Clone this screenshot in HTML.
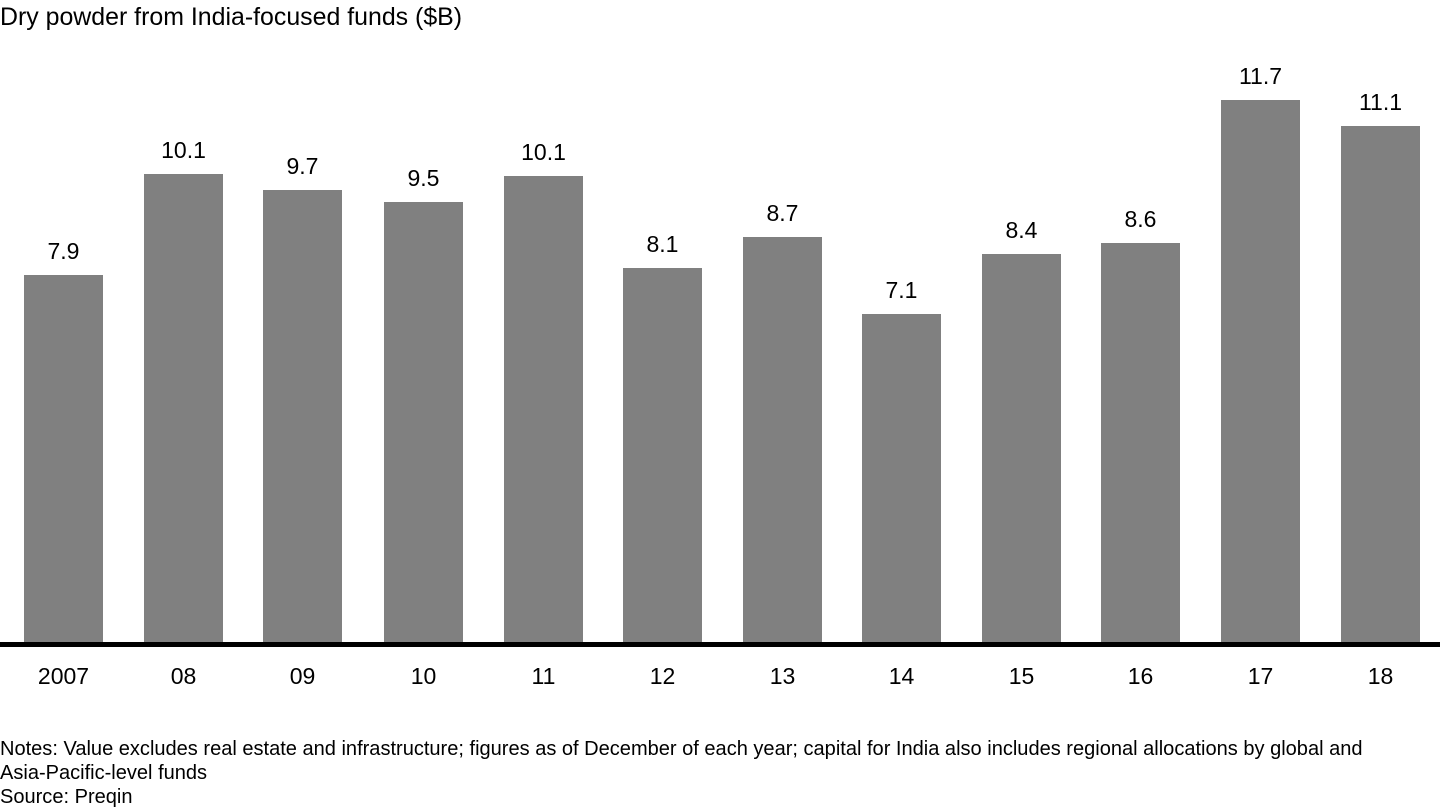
<!DOCTYPE html>
<html><head><style>
body{margin:0;width:1440px;height:810px;background:#fff;font-family:"Liberation Sans",Arial,sans-serif;color:#000;position:relative;overflow:hidden}
.t{position:absolute;white-space:nowrap}
.bar{position:absolute;background:#808080;width:79px}
.v,.y{position:absolute;width:120px;text-align:center;font-size:23px}
</style></head><body>
<div class="t" style="left:0;top:3px;font-size:24.9px">Dry powder from India-focused funds ($B)</div>
<div id="c"></div>
<div style="position:absolute;left:0;top:642px;width:1440px;height:5px;background:#000"></div>
<div class="t" style="left:0;top:737px;font-size:20.05px;line-height:24px">Notes: Value excludes real estate and infrastructure; figures as of December of each year; capital for India also includes regional allocations by global and<br>Asia-Pacific-level funds<br>Source: Preqin</div>
<script>
var d=[["2007",24,275,"7.9"],["08",144,174,"10.1"],["09",263,190,"9.7"],["10",384,202,"9.5"],["11",504,176,"10.1"],["12",623,268,"8.1"],["13",743,237,"8.7"],["14",862,314,"7.1"],["15",982,254,"8.4"],["16",1101,243,"8.6"],["17",1221,100,"11.7"],["18",1341,126,"11.1"]];
var h="";
d.forEach(function(a){
h+='<div class="bar" style="left:'+a[1]+'px;top:'+a[2]+'px;height:'+(644-a[2])+'px"></div>';
h+='<div class="v" style="left:'+(a[1]-20.5)+'px;top:'+(a[2]-37)+'px">'+a[3]+'</div>';
h+='<div class="y" style="left:'+(a[1]-20.5)+'px;top:663px">'+a[0]+'</div>';
});
document.getElementById("c").innerHTML=h;
</script>
</body></html>
